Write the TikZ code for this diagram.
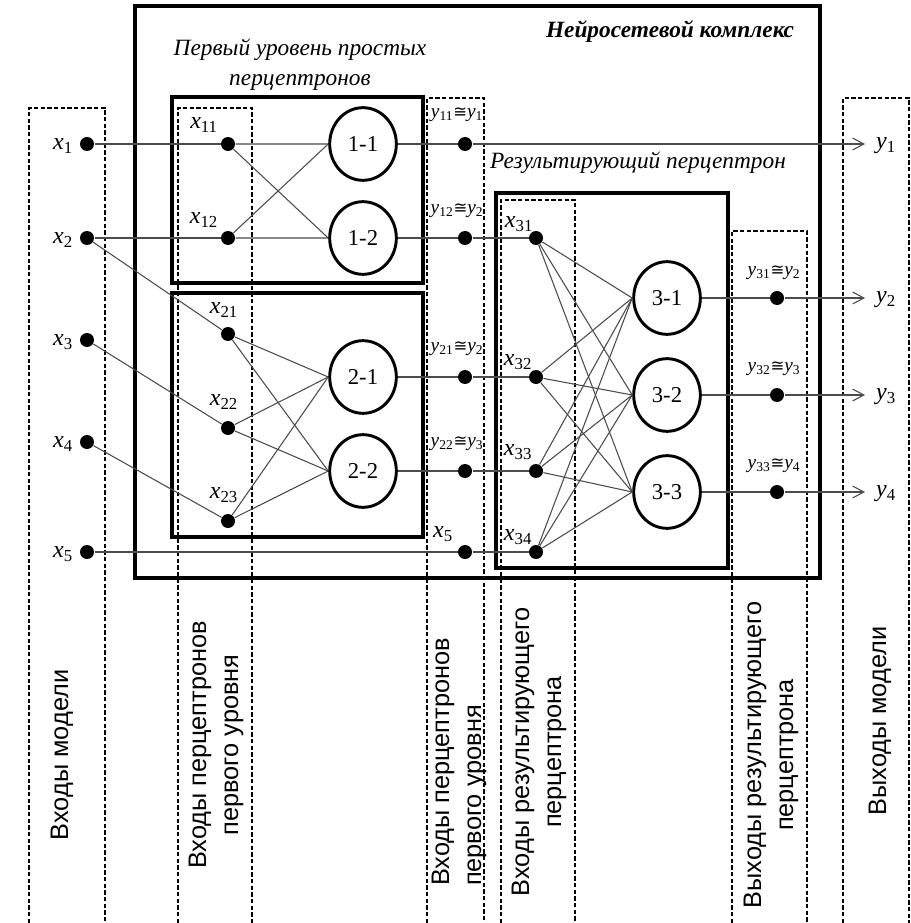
\documentclass[tikz,border=0pt]{standalone}
\usepackage{fontspec}
\setmainfont{Liberation Serif}
\setsansfont{Liberation Sans}
\newfontfamily\symfont{DejaVu Sans}[Scale=0.85]
\usetikzlibrary{arrows.meta,shapes.geometric}

\newcommand{\vsub}[2]{\textit{#1}\textsubscript{#2}}
\newcommand{\approxeq}{{\symfont ≅}}

\tikzset{every picture/.style={line width=0.75pt}}
\tikzset{
  frame/.style={line width=2.4pt},
  band/.style={line width=1.4pt, dash pattern=on 3.3pt off 1.7pt},
  link/.style={line width=0.8pt, color=black!70},
  outarrow/.style={link, -{Straight Barb[length=8.5pt,width=9pt]}},
  dot/.style={circle, fill=black, inner sep=0pt, minimum size=10.5pt},
  neuron/.style={ellipse, draw, line width=2.2pt, fill=white, inner sep=0pt,
    minimum width=50pt, minimum height=54.5pt, font=\fontsize{17}{18}\selectfont},
  var/.style={inner sep=0.75pt, font=\fontsize{18}{20}\selectfont},
  eqv/.style={inner sep=0.75pt, font=\fontsize{14.5}{16}\selectfont},
  head/.style={inner sep=0.75pt, align=center, font=\fontsize{17.5}{22.5}\selectfont\itshape},
  colname/.style={inner sep=0.75pt, rotate=90, font=\fontsize{19}{24}\selectfont\sffamily}
}

\begin{document}
\begin{tikzpicture}[x=0.75pt,y=0.75pt,yscale=-1,xscale=1]
\useasboundingbox (0,0) rectangle (910,923);

%Shape: Rectangle (neural complex)
\draw[frame] (135,6) rectangle (820,578);
%Shape: Rectangle (first level, group 1)
\draw[frame] (172,97) rectangle (423,283);
%Shape: Rectangle (first level, group 2)
\draw[frame] (172,293) rectangle (423,537);
%Shape: Rectangle (resulting perceptron)
\draw[frame] (496,193) rectangle (728,568);

%Dashed columns
\draw[band] (29,923) -- (29,108) -- (105,108) -- (105,923);
\draw[band] (178,923) -- (178,108) -- (252,108) -- (252,923);
\draw[band] (427,923) -- (427,98) -- (484,98) -- (484,923);
\draw[band] (501,923) -- (501,200) -- (575,200) -- (575,923);
\draw[band] (732,923) -- (732,231) -- (807,231) -- (807,923);
\draw[band] (843,923) -- (843,98) -- (909,98) -- (909,923);

%Inputs of the model
\node[dot] (x1) at (87,144) {};
\node[dot] (x2) at (87,238) {};
\node[dot] (x3) at (87,340) {};
\node[dot] (x4) at (87,442) {};
\node[dot] (x5) at (87,552) {};

%Inputs of the first level
\node[dot] (x11) at (228,144) {};
\node[dot] (x12) at (228,238) {};
\node[dot] (x21) at (228,334) {};
\node[dot] (x22) at (228,428) {};
\node[dot] (x23) at (228,521) {};

%First level perceptrons
\node[neuron] (n11) at (363,144) {1-1};
\node[neuron] (n12) at (363,238) {1-2};
\node[neuron] (n21) at (363,377) {2-1};
\node[neuron] (n22) at (363,471) {2-2};

%Outputs of the first level
\node[dot] (y11) at (465,144) {};
\node[dot] (y12) at (465,238) {};
\node[dot] (y21) at (465,377) {};
\node[dot] (y22) at (465,471) {};
\node[dot] (x5b) at (465,552) {};

%Inputs of the resulting perceptron
\node[dot] (x31) at (536,238) {};
\node[dot] (x32) at (536,377) {};
\node[dot] (x33) at (536,471) {};
\node[dot] (x34) at (536,552) {};

%Resulting perceptron
\node[neuron] (n31) at (667,298) {3-1};
\node[neuron] (n32) at (667,395) {3-2};
\node[neuron] (n33) at (667,492) {3-3};

%Outputs of the resulting perceptron
\node[dot] (y31) at (777,298) {};
\node[dot] (y32) at (777,395) {};
\node[dot] (y33) at (777,492) {};

\coordinate (out1) at (865,144);
\coordinate (out2) at (865,298);
\coordinate (out3) at (865,395);
\coordinate (out4) at (865,492);

%Straight Lines
\draw[link] (x1) -- (x11);
\draw[link] (x2) -- (x12);
\draw[link] (x2) -- (x21);
\draw[link] (x3) -- (x22);
\draw[link] (x4) -- (x23);
\draw[link] (x5) -- (x5b) -- (x34);

\draw[link] (x11) -- (n11.west) (x11) -- (n12.west);
\draw[link] (x12) -- (n11.west) (x12) -- (n12.west);
\draw[link] (x21) -- (n21.west) (x21) -- (n22.west);
\draw[link] (x22) -- (n21.west) (x22) -- (n22.west);
\draw[link] (x23) -- (n21.west) (x23) -- (n22.west);

\draw[link] (n11) -- (y11);
\draw[outarrow] (y11) -- (out1);
\draw[link] (n12) -- (y12) -- (x31);
\draw[link] (n21) -- (y21) -- (x32);
\draw[link] (n22) -- (y22) -- (x33);

\draw[link] (x31) -- (n31.west) (x31) -- (n32.west) (x31) -- (n33.west);
\draw[link] (x32) -- (n31.west) (x32) -- (n32.west) (x32) -- (n33.west);
\draw[link] (x33) -- (n31.west) (x33) -- (n32.west) (x33) -- (n33.west);
\draw[link] (x34) -- (n31.west) (x34) -- (n32.west) (x34) -- (n33.west);

\draw[link] (n31) -- (y31);
\draw[outarrow] (y31) -- (out2);
\draw[link] (n32) -- (y32);
\draw[outarrow] (y32) -- (out3);
\draw[link] (n33) -- (y33);
\draw[outarrow] (y33) -- (out4);

% Text Node
\node[head, font=\fontsize{17.5}{22.5}\selectfont\bfseries\itshape] (tcomplex) at (670,32) {Нейросетевой комплекс};
% Text Node
\node[head] (tlevel) at (300,65) {Первый уровень простых\\перцептронов};
% Text Node
\node[head] (tresult) at (638,163) {Результирующий перцептрон};

% Text Node
\node[var] (lx1) at (63,146) {\vsub{x}{1}};
\node[var] (lx2) at (63,240) {\vsub{x}{2}};
\node[var] (lx3) at (63,342) {\vsub{x}{3}};
\node[var] (lx4) at (63,444) {\vsub{x}{4}};
\node[var] (lx5) at (63,554) {\vsub{x}{5}};
% Text Node
\node[var] (lx11) at (204,125) {\vsub{x}{11}};
\node[var] (lx12) at (204,220) {\vsub{x}{12}};
\node[var] (lx21) at (224,310) {\vsub{x}{21}};
\node[var] (lx22) at (224,402) {\vsub{x}{22}};
\node[var] (lx23) at (224,495) {\vsub{x}{23}};
% Text Node
\node[eqv] (ly11) at (457,115) {\vsub{y}{11}\approxeq\vsub{y}{1}};
\node[eqv] (ly12) at (457,211) {\vsub{y}{12}\approxeq\vsub{y}{2}};
\node[eqv] (ly21) at (457,349) {\vsub{y}{21}\approxeq\vsub{y}{2}};
\node[eqv] (ly22) at (457,444) {\vsub{y}{22}\approxeq\vsub{y}{3}};
\node[var] (lx5b) at (443,534) {\vsub{x}{5}};
% Text Node
\node[var] (lx31) at (519,224) {\vsub{x}{31}};
\node[var] (lx32) at (518,362) {\vsub{x}{32}};
\node[var] (lx33) at (518,452) {\vsub{x}{33}};
\node[var] (lx34) at (518,537) {\vsub{x}{34}};
% Text Node
\node[eqv] (ly31) at (774,273) {\vsub{y}{31}\approxeq\vsub{y}{2}};
\node[eqv] (ly32) at (774,369) {\vsub{y}{32}\approxeq\vsub{y}{3}};
\node[eqv] (ly33) at (774,466) {\vsub{y}{33}\approxeq\vsub{y}{4}};
% Text Node
\node[var] (ly1) at (886,146) {\vsub{y}{1}};
\node[var] (ly2) at (886,300) {\vsub{y}{2}};
\node[var] (ly3) at (886,397) {\vsub{y}{3}};
\node[var] (ly4) at (886,494) {\vsub{y}{4}};

% Column names
\node[colname] (cin) at (62,755) {Входы модели};
\node[colname, align=center] (cin1) at (216,745) {Входы перцептронов\\первого уровня};
\node[colname, align=left] (cin1b) at (459,762) {Входы перцептронов\\первого уровня};
\node[colname, align=center] (cin3) at (539,752) {Входы результирующего\\перцептрона};
\node[colname, align=center] (cout3) at (771,755) {Выходы результирующего\\перцептрона};
\node[colname] (cout) at (880,721) {Выходы модели};

\end{tikzpicture}
\end{document}
